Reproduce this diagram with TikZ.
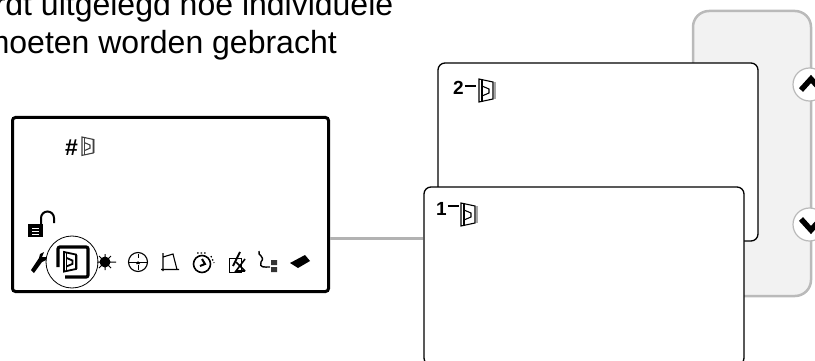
\documentclass[tikz,border=0pt]{standalone}
\usepackage{fontspec}
\setmainfont{Liberation Sans}
\usetikzlibrary{positioning}

\tikzset{
    screenbox/.style={draw, line width=3pt, rounded corners=3pt, fill=white, minimum width=316pt, minimum height=174pt, inner sep=0pt},
    cardbox/.style={draw, line width=1.3pt, rounded corners=7pt, fill=white, minimum width=320pt, inner sep=0pt},
    sidepanel/.style={draw=black!27, line width=2.5pt, rounded corners=16pt, fill=black!5, minimum width=118pt, minimum height=285pt, inner sep=0pt},
    roundbtn/.style={circle, draw=black!27, line width=1.2pt, fill=white, minimum size=33pt, inner sep=0pt},
    chevron/.style={line width=5.5pt, miter limit=10},
    link/.style={draw=black!30, line width=3pt},
    bodytext/.style={font=\fontsize{32}{38}\selectfont, anchor=base east, inner sep=0pt},
    tag/.style={font=\fontsize{19}{19}\selectfont\bfseries, inner sep=0pt, anchor=base west},
    lensline/.style={line width=1.1pt},
    pics/lensicon/.style={code={
        \draw [black!35, line width=2pt] (15.5,3) -- (15.5,20);
        \draw [lensline, fill=white] (0,0) -- (14,3) -- (14,20) -- (0,23) -- cycle;
        \draw [lensline] (3,1) -- (3,22);
        \draw [lensline] (3,7) -- (10,10) -- (10,14) -- (3,17);
    }}
}

\begin{document}
\begin{tikzpicture}[x=1pt, y=-1pt]
    \useasboundingbox (0,0) rectangle (815,361);
    \clip (0,0) rectangle (815,361);

    \node [bodytext] (lineone) at (393.5,16) {wordt uitgelegd hoe individuele};
    \node [bodytext] (linetwo) at (337,54) {moeten worden gebracht};

    % side panel and its buttons
    \node [sidepanel] (panel) at (752,153.5) {};
    \node [roundbtn] (btnup) at (809.5,84.5) {};
    \node [roundbtn] (btndown) at (809.5,224.5) {};
    \draw [chevron] (801,90) -- (811,79) -- (821,90);
    \draw [chevron] (801,219) -- (811,230) -- (821,219);

    % screen, cards and the line between them
    \node [screenbox] (screen) at (170.5,204.5) {};
    \node [cardbox, minimum height=178pt] (cardtwo) at (598,152) {};
    \node [cardbox, minimum height=178pt] (cardone) at (584,276) {};
    \coordinate (joint) at (screen.east |- 0,238);
    \draw [link] (joint) -- (joint -| cardone.west);

    % card labels
    \node [tag] (tagtwo) at (453,95) {2\hspace{1pt}\rule[8pt]{11pt}{1.8pt}};
    \pic at (479,79) {lensicon};
    \node [tag] (tagone) at (436,215) {1\hspace{1pt}\rule[8pt]{11pt}{1.8pt}};
    \pic at (461,203) {lensicon};

    % screen contents
    \node [tag, font=\fontsize{23}{23}\selectfont\bfseries] (hash) at (65,155) {\#};
    \pic [scale=0.8, black!75] at (82,137) {lensicon};

    % lock
    \draw [line width=2pt] (41,225) -- (41,218) arc [start angle=180, end angle=360, radius=6.5] -- (54,223);
    \fill (28,224) rectangle (43,237);
    \draw [white, line width=1pt] (32,228) -- (39,228) (32,231) -- (39,231) (32,234) -- (39,234);

    % menu icons
    \fill (31,270) -- (39,258) -- (40,254) -- (44,252) -- (42,257) -- (46,257) -- (46,260) -- (42,262) -- (34,273) -- cycle;

    \node [circle, draw, line width=0.8pt, minimum size=52pt, inner sep=0pt] (ring) at (72,262) {};
    \draw [line width=3.2pt, rounded corners=2pt] (58,267) -- (58,247) -- (88,247) -- (88,277) -- (65,277);
    \pic [scale=0.85, lensline/.style={line width=1.8pt}] at (64,252) {lensicon};

    \fill (105,262) circle [radius=5.5];
    \draw [line width=1pt] (97,262) -- (116,262) (105,254) -- (105,270) (99,256) -- (111,268) (99,268) -- (111,256);

    \node [circle, draw, line width=1.1pt, minimum size=19pt, inner sep=0pt] (target) at (138,262) {};
    \draw [line width=0.9pt] (129,262) -- (147,262) (138,254) -- (138,258) (138,265) -- (138,270);
    \fill (136,264) -- (140,264) -- (138,261) -- cycle;

    \draw [line width=1.1pt] (161,269.5) -- (179,269.5) (163,253) -- (163,271) (163,257) -- (173,254) -- (177,269.5);

    \node [circle, draw, line width=1.6pt, minimum size=17pt, inner sep=0pt] (timer) at (202,264) {};
    \draw [line width=2pt] (202,259) -- (205,264) -- (200,266);
    \draw [line width=1.2pt, dash pattern=on 1.5pt off 2pt] (197,253) -- (207,253) (211,256) -- (214,263);

    \draw [line width=1pt] (229,258) rectangle (241,272);
    \draw [line width=2pt] (233,266) -- (240,252);
    \draw [line width=1.6pt] (236,262) -- (245,271) (245,259) -- (236,271) -- (245,271);

    \draw [line width=1.4pt] (259,251) .. controls (257,256) and (266,256) .. (261,262) .. controls (259,268) and (264,267) .. (270,267);
    \fill [black!80] (271,260) rectangle (277,265) (271,267) rectangle (277,272);

    \fill (290,263) -- (305,255) -- (310,261) -- (298,268) -- cycle;
\end{tikzpicture}
\end{document}
